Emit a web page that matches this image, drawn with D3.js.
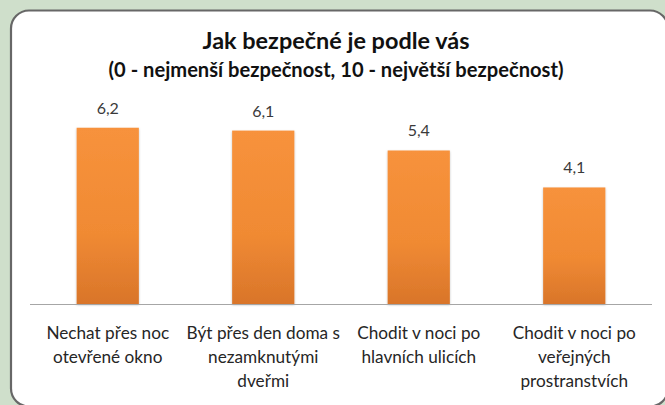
<!DOCTYPE html>
<html><head><meta charset="utf-8">
<script src="https://cdn.jsdelivr.net/npm/d3@7"></script>
<style>body{margin:0;background:#cfdfcb;}svg{display:block;}</style>
</head><body>
<svg id="c" width="665" height="405"></svg>
<script>
const categories = [
  ["Nechat přes noc", "otevřené okno"],
  ["Být přes den doma s", "nezamknutými", "dveřmi"],
  ["Chodit v noci po", "hlavních ulicích"],
  ["Chodit v noci po", "veřejných", "prostranstvích"]
];
const values = [6.2, 6.1, 5.4, 4.1];
const valueLabels = ["6,2", "6,1", "5,4", "4,1"];
const title = "Jak bezpečné je podle vás";
const subtitle = "(0 - nejmenší bezpečnost, 10 - největší bezpečnost)";

const svg = d3.select("#c");
const font = "Lato, 'Open Sans', sans-serif";

svg.append("rect").attr("width",665).attr("height",405).attr("fill","#cfdfcb");
svg.append("rect").attr("x",11).attr("y",10.5).attr("width",657).attr("height",396)
  .attr("rx",18).attr("fill","#fff").attr("stroke","#676767").attr("stroke-width",2.2);

const defs = svg.append("defs");
const g = defs.append("linearGradient").attr("id","og").attr("x1",0).attr("y1",0).attr("x2",0).attr("y2",1);
g.append("stop").attr("offset","0%").attr("stop-color","#f7923c");
g.append("stop").attr("offset","60%").attr("stop-color","#f08a33");
g.append("stop").attr("offset","100%").attr("stop-color","#d9752a");
const f = defs.append("filter").attr("id","sh").attr("x","-20%").attr("y","-10%").attr("width","140%").attr("height","130%");
f.append("feDropShadow").attr("dx",0).attr("dy",1).attr("stdDeviation",1).attr("flood-color","#000").attr("flood-opacity",0.25);

const x = d3.scaleBand().domain(d3.range(values.length)).range([30, 652]).paddingInner(0.6).paddingOuter(0.3);
const y = d3.scaleLinear().domain([0, 7]).range([304, 105]);

function fitText(sel, w){
  const n = sel.node(); const l = n.getComputedTextLength();
  const fs = parseFloat(sel.attr("font-size"));
  sel.attr("font-size", fs * w / l);
}

const t1 = svg.append("text").attr("x",336).attr("y",49).attr("text-anchor","middle")
  .attr("font-family",font).attr("font-weight","bold").attr("font-size",22).attr("fill","#111").text(title);
fitText(t1, 267);
const t2 = svg.append("text").attr("x",336).attr("y",77).attr("text-anchor","middle")
  .attr("font-family",font).attr("font-weight","bold").attr("font-size",18).attr("fill","#111").text(subtitle);
fitText(t2, 455);

svg.selectAll("rect.bar").data(values).join("rect").attr("class","bar")
  .attr("x",(d,i)=>x(i)).attr("width",x.bandwidth())
  .attr("y",d=>y(d)).attr("height",d=>y(0)-y(d))
  .attr("fill","url(#og)").attr("filter","url(#sh)");

svg.append("line").attr("x1",30).attr("x2",652).attr("y1",y(0)+0.5).attr("y2",y(0)+0.5)
  .attr("stroke","#a6a6a6").attr("stroke-width",1.2);

svg.selectAll("text.val").data(values).join("text").attr("class","val")
  .attr("x",(d,i)=>x(i)+x.bandwidth()/2).attr("y",d=>y(d)-14)
  .attr("text-anchor","middle").attr("font-family",font).attr("font-size",16)
  .attr("fill","#3a3a3a").text((d,i)=>valueLabels[i]);

categories.forEach((lines,i)=>{
  lines.forEach((ln,j)=>{
    svg.append("text").attr("x",x(i)+x.bandwidth()/2).attr("y",339+j*24)
      .attr("text-anchor","middle").attr("font-family",font).attr("font-size",17.2)
      .attr("fill","#262626").text(ln);
  });
});
</script>
</body></html>
